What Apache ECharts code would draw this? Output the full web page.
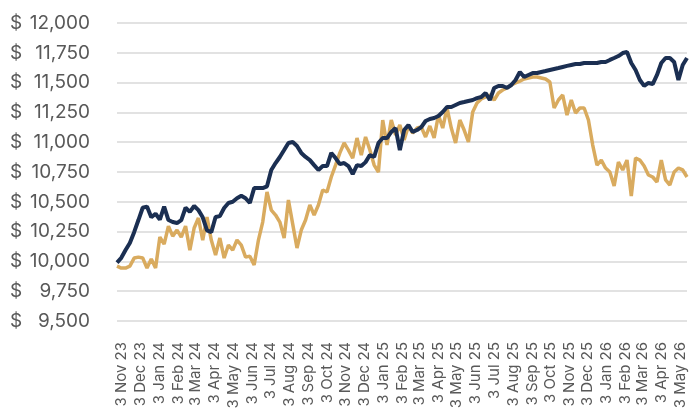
<!DOCTYPE html>
<html>
<head>
<meta charset="utf-8">
<script src="https://cdn.jsdelivr.net/npm/echarts@6/dist/echarts.min.js"></script>
<style>
  html, body { margin: 0; padding: 0; background: #fff; }
  #chart { width: 692px; height: 412px; }
</style>
</head>
<body>
<div id="chart"></div>
<script>
// weekly values, first week ending 26 Oct 2023
var startDate = new Date(2023, 9, 26);

var navyValues = [
  9990, 10030, 10095, 10155, 10245, 10347, 10450, 10460, 10370, 10400,
  10350, 10460, 10347, 10330, 10322, 10347, 10450, 10415, 10465, 10430,
  10370, 10260, 10245, 10372, 10380, 10448, 10490, 10500, 10530, 10550,
  10530, 10490, 10615, 10615, 10615, 10630, 10767, 10825, 10876, 10934,
  10993, 11002, 10968, 10910, 10876, 10850, 10808, 10767, 10800, 10800,
  10910, 10867, 10816, 10825, 10800, 10733, 10808, 10800, 10833, 10892,
  10876, 10993, 11035, 11035, 11086, 11119, 10934, 11102, 11144, 11086,
  11102, 11127, 11178, 11195, 11203, 11220, 11253, 11295, 11295, 11312,
  11329, 11337, 11346, 11354, 11370, 11379, 11413, 11354, 11455, 11472,
  11472, 11455, 11480, 11522, 11589, 11547, 11564, 11580, 11580, 11589,
  11597, 11606, 11614, 11622, 11631, 11640, 11648, 11656, 11656, 11664,
  11664, 11664, 11664, 11673, 11673, 11690, 11706, 11723, 11748, 11757,
  11664, 11606, 11522, 11472, 11497, 11488, 11564, 11664, 11706, 11706,
  11673, 11522, 11648, 11706
];

var goldValues = [
  9960, 9944, 9944, 9960, 10028, 10036, 10028, 9944, 10020, 9944,
  10204, 10145, 10296, 10212, 10263, 10204, 10296, 10095, 10280, 10364,
  10179, 10372, 10179, 10053, 10196, 10028, 10137, 10095, 10179, 10137,
  10036, 10044, 9970, 10179, 10330, 10582, 10431, 10389, 10330, 10196,
  10515, 10313, 10112, 10263, 10347, 10473, 10389, 10473, 10599, 10582,
  10708, 10808, 10910, 10993, 10934, 10867, 11035, 10892, 11044, 10934,
  10808, 10750, 11186, 10976, 11186, 11060, 11144, 11018, 11136, 11077,
  11119, 11127, 11044, 11136, 11035, 11228, 11119, 11287, 11119, 10993,
  11186, 11102, 11002, 11253, 11329, 11363, 11379, 11396, 11354, 11413,
  11438, 11455, 11480, 11497, 11513, 11530, 11539, 11547, 11547, 11539,
  11530, 11505, 11287, 11354, 11396, 11228, 11354, 11245, 11287, 11287,
  11186, 10976, 10808, 10850, 10783, 10750, 10633, 10833, 10767, 10850,
  10549, 10867, 10850, 10800, 10725, 10708, 10666, 10850, 10683, 10641,
  10750, 10783, 10767, 10708
];

var monthNames = ["Jan", "Feb", "Mar", "Apr", "May", "Jun", "Jul", "Aug", "Sep", "Oct", "Nov", "Dec"];
var DAY = 86400000;

// x is counted in days from startDate
function dayOf(d) {
  return Math.round((d.getTime() - startDate.getTime()) / DAY);
}

// tick labels: the 3rd of every month, Nov 23 .. May 26
var labelDays = [];
for (var m = 0; m < 31; m++) {
  labelDays.push(dayOf(new Date(2023, 10 + m, 3)));
}

function pairs(values) {
  return values.map(function (v, i) { return [7 * i, v]; });
}

function fmtDate(day) {
  var d = new Date(startDate.getFullYear(), startDate.getMonth(), startDate.getDate() + Math.round(day));
  return d.getDate() + " " + monthNames[d.getMonth()] + " " + String(d.getFullYear()).slice(2);
}

function fmtMoney(v) {
  var s = String(v).replace(/\B(?=(\d{3})+(?!\d))/g, ",");
  return "{c|$}{v|" + s + "}";
}

var chart = echarts.init(document.getElementById("chart"));

chart.setOption({
  animation: false,
  textStyle: { fontFamily: "Inter" },
  grid: { left: 117, right: 5, top: 23, bottom: 91 },
  xAxis: {
    type: "value",
    min: 0,
    max: 7 * (navyValues.length - 1),
    axisLine: { show: false },
    axisTick: { show: false },
    splitLine: { show: false },
    axisLabel: {
      customValues: labelDays,
      formatter: fmtDate,
      rotate: 90,
      margin: 21,
      color: "#595959",
      fontSize: 15,
      fontFamily: "Inter"
    }
  },
  yAxis: {
    type: "value",
    min: 9500,
    max: 12000,
    interval: 250,
    axisLine: { show: false },
    axisTick: { show: false },
    splitLine: { lineStyle: { color: "#d9d9d9", width: 1.5 } },
    axisLabel: {
      margin: 27,
      formatter: fmtMoney,
      rich: {
        c: { width: 18, align: "left", color: "#595959", fontSize: 19, fontFamily: "Inter" },
        v: { width: 62, align: "right", color: "#595959", fontSize: 19, fontFamily: "Inter" }
      }
    }
  },
  series: [
    {
      name: "Gold",
      type: "line",
      data: pairs(goldValues),
      showSymbol: false,
      lineStyle: { color: "#d9ab5f", width: 3.5 },
      itemStyle: { color: "#d9ab5f" },
      z: 2
    },
    {
      name: "Navy",
      type: "line",
      data: pairs(navyValues),
      showSymbol: false,
      lineStyle: { color: "#1b2f52", width: 4 },
      itemStyle: { color: "#1b2f52" },
      z: 3
    }
  ]
});
</script>
</body>
</html>
